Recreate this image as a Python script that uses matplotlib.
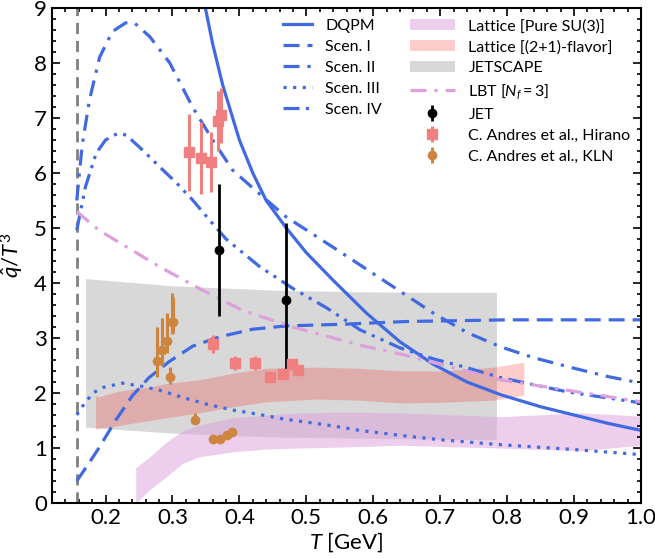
import matplotlib
matplotlib.use("Agg")
import matplotlib.pyplot as plt
from matplotlib.ticker import MultipleLocator
from matplotlib.patches import Patch
from matplotlib.lines import Line2D

plt.rcParams['font.family'] = ['Lato', 'DejaVu Sans']
plt.rcParams['mathtext.fontset'] = 'custom'
plt.rcParams['mathtext.rm'] = 'Lato'
plt.rcParams['mathtext.it'] = 'Lato:italic'

# critical temperature (vertical dashed line)
T_c = 0.157

# model curves
T_dqpm = [0.345, 0.36, 0.375, 0.40, 0.42, 0.44, 0.47, 0.50, 0.54, 0.59, 0.64, 0.69, 0.74, 0.79, 0.85, 0.90, 0.95, 1.0]
q_dqpm = [9.25, 8.35, 7.6, 6.6, 6.0, 5.5, 5.0, 4.55, 4.05, 3.45, 2.93, 2.52, 2.2, 1.97, 1.75, 1.6, 1.45, 1.32]

T_s1 = [0.157, 0.175, 0.19, 0.215, 0.24, 0.265, 0.295, 0.33, 0.37, 0.42, 0.47, 0.555, 0.65, 0.8, 1.0]
q_s1 = [0.4, 0.72, 1.0, 1.5, 1.95, 2.28, 2.57, 2.85, 3.02, 3.16, 3.22, 3.25, 3.3, 3.33, 3.33]

T_s2 = [0.157, 0.165, 0.176, 0.191, 0.21, 0.23, 0.243, 0.266, 0.296, 0.33, 0.36, 0.39, 0.43, 0.47,
        0.54, 0.59, 0.64, 0.69, 0.74, 0.79, 0.84, 0.9, 0.95, 1.0]
q_s2 = [5.5, 6.5, 7.33, 8.1, 8.57, 8.73, 8.73, 8.48, 8.0, 7.2, 6.6, 6.05, 5.62, 5.2,
        4.65, 4.25, 3.85, 3.45, 3.1, 2.84, 2.64, 2.45, 2.3, 2.18]

T_s3 = [0.157, 0.165, 0.181, 0.196, 0.225, 0.255, 0.281, 0.315, 0.35, 0.39, 0.43, 0.465, 0.53, 0.58,
        0.64, 0.7, 0.79, 0.89, 1.0]
q_s3 = [1.6, 1.75, 2.0, 2.1, 2.18, 2.12, 2.05, 1.92, 1.8, 1.69, 1.61, 1.53, 1.42, 1.32,
        1.23, 1.15, 1.06, 0.98, 0.88]

T_s4 = [0.157, 0.17, 0.186, 0.2, 0.218, 0.231, 0.255, 0.281, 0.306, 0.33, 0.355, 0.38, 0.43, 0.48,
        0.53, 0.58, 0.64, 0.69, 0.74, 0.79, 0.89, 1.0]
q_s4 = [4.96, 5.75, 6.36, 6.6, 6.72, 6.69, 6.42, 6.11, 5.82, 5.51, 5.15, 4.8, 4.3, 3.9,
        3.55, 3.15, 2.82, 2.62, 2.46, 2.28, 2.02, 1.82]

T_lbt = [0.157, 0.19, 0.28, 0.34, 0.405, 0.48, 0.58, 0.64, 0.79, 1.0]
q_lbt = [5.3, 4.96, 4.3, 3.9, 3.5, 3.2, 2.87, 2.71, 2.24, 1.84]

# bands
T_su3 = [0.245, 0.266, 0.291, 0.315, 0.34, 0.39, 0.44, 0.49, 0.565, 0.64, 0.79, 0.91, 1.0]
su3_hi = [0.64, 0.84, 1.11, 1.31, 1.42, 1.55, 1.6, 1.64, 1.65, 1.64, 1.57, 1.64, 1.58]
su3_lo = [0.0, 0.24, 0.48, 0.72, 0.84, 0.93, 0.98, 1.0, 1.02, 1.05, 1.0, 0.95, 1.05]

T_21 = [0.185, 0.19, 0.216, 0.24, 0.266, 0.29, 0.34, 0.39, 0.44, 0.515, 0.58, 0.64, 0.7, 0.78, 0.825]
f21_hi = [1.95, 1.93, 2.02, 2.07, 2.11, 2.17, 2.24, 2.36, 2.45, 2.47, 2.45, 2.4, 2.4, 2.47, 2.56]
f21_lo = [1.34, 1.36, 1.4, 1.45, 1.5, 1.55, 1.64, 1.75, 1.84, 1.89, 1.87, 1.82, 1.83, 1.87, 1.96]

T_js = [0.17, 0.3, 0.45, 0.58, 0.7, 0.784]
js_hi = [4.08, 3.95, 3.87, 3.84, 3.83, 3.83]
js_lo = [1.38, 1.27, 1.2, 1.18, 1.16, 1.15]

# data points
T_jet = [0.37, 0.47]
q_jet = [4.6, 3.7]
jet_lo = [1.2, 1.35]
jet_hi = [1.2, 1.4]

T_hir = [0.324, 0.342, 0.357, 0.368, 0.373, 0.36, 0.394, 0.423, 0.445, 0.465, 0.478, 0.487]
q_hir = [6.38, 6.27, 6.2, 6.95, 7.05, 2.89, 2.54, 2.54, 2.3, 2.34, 2.52, 2.42]
hir_err = [0.7, 0.65, 0.55, 0.55, 0.5, 0.16, 0.13, 0.13, 0.05, 0.05, 0.1, 0.08]

T_kln = [0.277, 0.285, 0.292, 0.299, 0.301, 0.297, 0.334, 0.36, 0.371, 0.382, 0.389]
q_kln = [2.58, 2.78, 2.94, 3.3, 3.3, 2.3, 1.51, 1.16, 1.16, 1.24, 1.29]
kln_lo = [0.28, 0.28, 0.22, 0.23, 0.2, 0.14, 0.05, 0.05, 0.05, 0.05, 0.05]
kln_hi = [0.62, 0.59, 0.52, 0.52, 0.45, 0.17, 0.13, 0.08, 0.05, 0.05, 0.08]

blue = 'royalblue'

fig = plt.figure(figsize=(6.55, 5.59), dpi=100)
ax = fig.add_axes([52/655, 56/559, 589/655, 495/559])

ax.fill_between(T_js, js_lo, js_hi, color='grey', alpha=0.3, lw=0)
ax.fill_between(T_21, f21_lo, f21_hi, color='red', alpha=0.2, lw=0)
ax.fill_between(T_su3, su3_lo, su3_hi, color='plum', alpha=0.5, lw=0)

ax.axvline(T_c, color='grey', ls=(0, (4, 2.5)), lw=2)

lw = 2.3
ax.plot(T_dqpm, q_dqpm, color=blue, lw=lw, ls='-')
ax.plot(T_s1, q_s1, color=blue, lw=lw, ls=(0, (5, 2.5)))
ax.plot(T_s2, q_s2, color=blue, lw=lw, ls=(0, (5, 2.5, 1, 2.5)))
ax.plot(T_s3, q_s3, color=blue, lw=lw, ls=(0, (1, 2)))
ax.plot(T_s4, q_s4, color=blue, lw=lw, ls=(0, (5, 2, 1, 2, 1, 2)))
ax.plot(T_lbt, q_lbt, color='plum', lw=lw, ls=(0, (5, 2.5, 1, 2.5)))

eb_hir = ax.errorbar(T_hir, q_hir, yerr=hir_err, fmt='s', color='lightcoral', ms=6.5, elinewidth=2.2, capsize=0)
eb_kln = ax.errorbar(T_kln, q_kln, yerr=[kln_lo, kln_hi], fmt='o', color='peru', ms=6, elinewidth=2.2, capsize=0)
eb_jet = ax.errorbar(T_jet, q_jet, yerr=[jet_lo, jet_hi], fmt='o', color='black', ms=6, elinewidth=2, capsize=0)

ax.set_xlim(0.12, 1.0)
ax.set_ylim(0, 9)
ax.set_xticks([0.2, 0.3, 0.4, 0.5, 0.6, 0.7, 0.8, 0.9, 1.0])
ax.xaxis.set_minor_locator(MultipleLocator(0.02))
ax.yaxis.set_major_locator(MultipleLocator(1))
ax.yaxis.set_minor_locator(MultipleLocator(0.2))
ax.tick_params(which='both', direction='in', top=True, right=True, labelsize=16, width=1.2)
ax.tick_params(which='major', length=6)
ax.tick_params(which='minor', length=3)
for s in ax.spines.values():
    s.set_linewidth(1.5)
ax.set_xlabel(r'$T$ [GeV]', fontsize=16, labelpad=2)
ax.set_ylabel(r'$\hat{q}/T^3$', fontsize=16, labelpad=6)

h1 = [Line2D([], [], color=blue, lw=lw, ls='-'),
      Line2D([], [], color=blue, lw=lw, ls=(0, (5, 2.5))),
      Line2D([], [], color=blue, lw=lw, ls=(0, (5, 2.5, 1, 2.5))),
      Line2D([], [], color=blue, lw=lw, ls=(0, (1, 2))),
      Line2D([], [], color=blue, lw=lw, ls=(0, (5, 2, 1, 2, 1, 2)))]
l1 = ['DQPM', 'Scen. I', 'Scen. II', 'Scen. III', 'Scen. IV']
leg1 = ax.legend(h1, l1, loc='upper left', bbox_to_anchor=(0.392, 0.978), frameon=False,
                 fontsize=11.5, borderpad=0, borderaxespad=0, handlelength=1.8,
                 handletextpad=0.85, labelspacing=0.42)
ax.add_artist(leg1)

h2 = [Patch(color='plum', alpha=0.5, lw=0),
      Patch(color='red', alpha=0.2, lw=0),
      Patch(color='grey', alpha=0.3, lw=0),
      Line2D([], [], color='plum', lw=lw, ls=(0, (5, 2.5, 1, 2.5))),
      eb_jet, eb_hir, eb_kln]
l2 = ['Lattice [Pure SU(3)]', 'Lattice [(2+1)-flavor]', 'JETSCAPE', r'LBT [$N_f = 3$]',
      'JET', 'C. Andres et al., Hirano', 'C. Andres et al., KLN']
ax.legend(h2, l2, loc='upper left', bbox_to_anchor=(0.608, 0.978), frameon=False,
          fontsize=11.5, borderpad=0, borderaxespad=0, handlelength=2.8,
          handletextpad=0.85, labelspacing=0.42)

fig.savefig('out.png', dpi=100)
